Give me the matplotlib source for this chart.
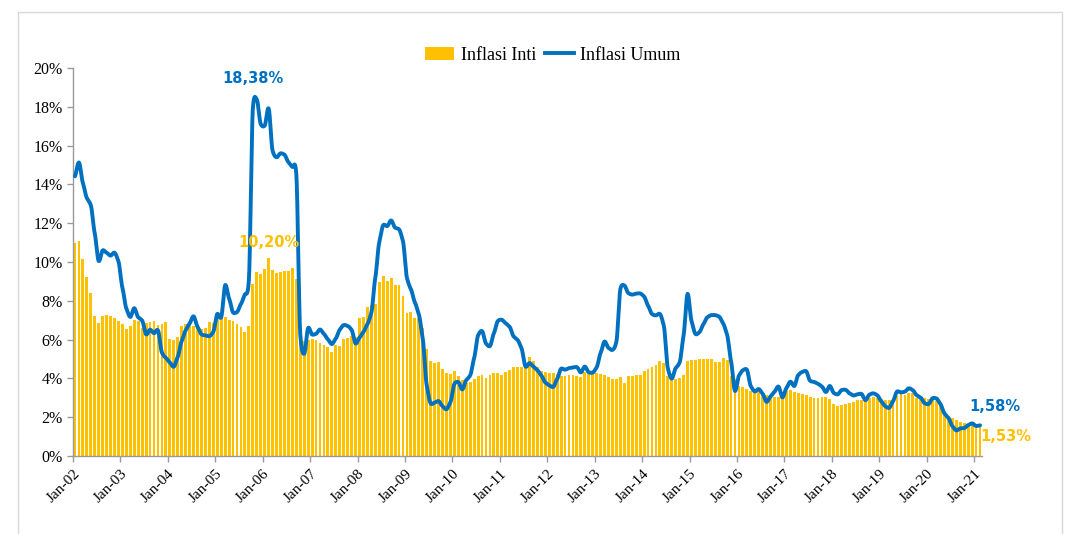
import matplotlib
matplotlib.use("Agg")
import matplotlib.pyplot as plt
from matplotlib.patches import Rectangle, Patch
from matplotlib.lines import Line2D
import numpy as np

# ---- data (monthly, Jan-2002 .. Feb-2021) ----
umum = [
    14.42, 15.13, 14.08, 13.30, 12.93, 11.48, 10.05, 10.60, 10.48, 10.33, 10.48, 10.03,  # 2002
    8.68, 7.60, 7.17, 7.62, 7.15, 6.98, 6.27, 6.51, 6.33, 6.48, 5.33, 5.06,              # 2003
    4.82, 4.60, 5.11, 5.92, 6.47, 6.83, 7.20, 6.67, 6.27, 6.22, 6.18, 6.40,              # 2004
    7.32, 7.15, 8.81, 8.12, 7.40, 7.42, 7.84, 8.33, 9.06, 17.89, 18.38, 17.11,           # 2005
    17.03, 17.92, 15.74, 15.40, 15.60, 15.53, 15.15, 14.90, 14.55, 6.29, 5.27, 6.60,     # 2006
    6.26, 6.30, 6.52, 6.29, 6.01, 5.77, 6.06, 6.51, 6.75, 6.70, 6.50, 5.80,              # 2007
    6.10, 6.40, 6.80, 7.40, 9.20, 11.03, 11.90, 11.85, 12.14, 11.77, 11.68, 11.06,       # 2008
    9.17, 8.60, 7.92, 7.31, 6.04, 3.65, 2.71, 2.75, 2.83, 2.57, 2.41, 2.78,              # 2009
    3.72, 3.81, 3.43, 3.91, 4.16, 5.05, 6.22, 6.44, 5.80, 5.67, 6.33, 6.96,              # 2010
    7.02, 6.84, 6.65, 6.16, 5.98, 5.54, 4.61, 4.79, 4.61, 4.42, 4.15, 3.79,              # 2011
    3.65, 3.56, 3.97, 4.50, 4.45, 4.53, 4.56, 4.58, 4.31, 4.61, 4.32, 4.30,              # 2012
    4.57, 5.31, 5.90, 5.57, 5.47, 5.90, 8.61, 8.79, 8.40, 8.32, 8.37, 8.38,              # 2013
    8.22, 7.75, 7.32, 7.25, 7.32, 6.70, 4.53, 3.99, 4.53, 4.83, 6.23, 8.36,              # 2014
    6.96, 6.29, 6.38, 6.79, 7.15, 7.26, 7.26, 7.18, 6.83, 6.25, 4.89, 3.35,              # 2015
    4.14, 4.42, 4.45, 3.60, 3.33, 3.45, 3.21, 2.79, 3.07, 3.31, 3.58, 3.02,              # 2016
    3.49, 3.83, 3.61, 4.17, 4.33, 4.37, 3.88, 3.82, 3.72, 3.58, 3.30, 3.61,              # 2017
    3.25, 3.18, 3.40, 3.41, 3.23, 3.12, 3.18, 3.20, 2.88, 3.16, 3.23, 3.13,              # 2018
    2.82, 2.57, 2.48, 2.83, 3.32, 3.28, 3.32, 3.49, 3.39, 3.13, 3.00, 2.72,              # 2019
    2.68, 2.98, 2.96, 2.67, 2.19, 1.96, 1.54, 1.32, 1.42, 1.44, 1.59, 1.68,              # 2020
    1.55, 1.58,                                                                          # 2021
]

inti = [
    11.00, 11.08, 10.17, 9.22, 8.41, 7.20, 6.84, 7.20, 7.29, 7.20, 7.12, 6.95,           # 2002
    6.81, 6.57, 6.69, 7.03, 6.95, 6.60, 6.86, 6.91, 6.98, 6.74, 6.78, 6.91,              # 2003
    6.03, 6.00, 6.14, 6.72, 6.81, 6.90, 6.70, 6.70, 6.55, 6.60, 6.90, 6.86,              # 2004
    7.10, 7.10, 7.15, 7.00, 6.98, 6.80, 6.65, 6.38, 6.70, 8.88, 9.46, 9.40,              # 2005
    9.65, 10.20, 9.60, 9.44, 9.50, 9.54, 9.55, 9.67, 9.12, 6.30, 5.95, 6.00,             # 2006
    6.01, 5.98, 5.85, 5.73, 5.62, 5.38, 5.72, 5.65, 6.01, 6.08, 6.20, 6.15,              # 2007
    7.10, 7.18, 7.70, 7.80, 7.85, 8.98, 9.26, 9.04, 9.15, 8.83, 8.79, 8.26,              # 2008
    7.39, 7.43, 7.13, 7.10, 6.62, 5.51, 4.88, 4.81, 4.83, 4.47, 4.29, 4.24,              # 2009
    4.40, 4.10, 3.90, 3.76, 3.82, 3.96, 4.13, 4.18, 4.00, 4.18, 4.30, 4.26,              # 2010
    4.18, 4.32, 4.43, 4.57, 4.58, 4.60, 4.60, 5.12, 4.91, 4.60, 4.40, 4.33,              # 2011
    4.26, 4.26, 4.22, 4.12, 4.13, 4.15, 4.20, 4.10, 4.09, 4.35, 4.28, 4.28,              # 2012
    4.27, 4.23, 4.20, 4.07, 3.97, 3.97, 4.05, 3.74, 4.12, 4.12, 4.18, 4.20,              # 2013
    4.40, 4.48, 4.57, 4.69, 4.88, 4.78, 4.10, 3.95, 3.99, 4.00, 4.20, 4.92,              # 2014
    4.97, 4.95, 5.00, 5.00, 5.00, 5.00, 4.82, 4.86, 5.03, 4.97, 4.10, 3.95,              # 2015
    3.60, 3.54, 3.44, 3.37, 3.32, 3.49, 3.26, 3.14, 3.09, 3.06, 3.06, 3.23,              # 2016
    3.35, 3.40, 3.30, 3.25, 3.18, 3.12, 3.03, 2.98, 2.97, 3.04, 3.02, 2.92,              # 2017
    2.66, 2.56, 2.65, 2.69, 2.72, 2.76, 2.87, 2.90, 2.94, 3.00, 3.04, 3.00,              # 2018
    2.95, 2.90, 2.88, 2.97, 3.08, 3.23, 3.15, 3.27, 3.23, 3.00, 2.97, 2.97,              # 2019
    2.95, 2.90, 2.85, 2.68, 2.30, 2.07, 1.98, 1.85, 1.75, 1.68, 1.63, 1.60,              # 2020
    1.56, 1.53,                                                                          # 2021
]

tick_labels = ["Jan-02", "Jan-03", "Jan-04", "Jan-05", "Jan-06", "Jan-07", "Jan-08",
               "Jan-09", "Jan-10", "Jan-11", "Jan-12", "Jan-13", "Jan-14", "Jan-15",
               "Jan-16", "Jan-17", "Jan-18", "Jan-19", "Jan-20", "Jan-21"]
series_names = ["Inflasi Inti", "Inflasi Umum"]

GOLD = "#FFC000"
BLUE = "#0070C0"
SERIF = "Liberation Serif"


def smooth(xs, ys, k=0.3, n=8):
    """Cardinal-spline curve through the data points (like a smoothed line)."""
    xs = np.asarray(xs, float)
    ys = np.asarray(ys, float)
    m = np.zeros_like(ys)
    m[1:-1] = k * (ys[2:] - ys[:-2])
    m[0] = k * 2 * (ys[1] - ys[0])
    m[-1] = k * 2 * (ys[-1] - ys[-2])
    t = np.linspace(0, 1, n, endpoint=False)
    h00 = 2 * t ** 3 - 3 * t ** 2 + 1
    h10 = t ** 3 - 2 * t ** 2 + t
    h01 = -2 * t ** 3 + 3 * t ** 2
    h11 = t ** 3 - t ** 2
    ox, oy = [], []
    for i in range(len(ys) - 1):
        ox.append(xs[i] + t * (xs[i + 1] - xs[i]))
        oy.append(h00 * ys[i] + h10 * m[i] + h01 * ys[i + 1] + h11 * m[i + 1])
    ox.append([xs[-1]])
    oy.append([ys[-1]])
    return np.concatenate(ox), np.concatenate(oy)


fig = plt.figure(figsize=(10.67, 5.34), dpi=100)
ax = fig.add_axes([73 / 1067, 1 - 456 / 534, (982 - 73) / 1067, (456 - 68) / 534])

x = np.arange(len(inti))
ax.bar(x, inti, width=0.72, color=GOLD, linewidth=0, zorder=2)
sx, sy = smooth(x, umum)
ax.plot(sx, sy, color=BLUE, linewidth=2.8, solid_joinstyle="round",
        solid_capstyle="round", zorder=3)

ax.set_xlim(-0.5, len(inti) - 0.5)
ax.set_ylim(0, 20)
ax.set_yticks(np.arange(0, 21, 2))
ax.set_yticklabels([f"{v}%" for v in range(0, 21, 2)], fontfamily=SERIF, fontsize=11.5)

ticks = [12 * k - 0.5 for k in range(len(tick_labels))]
ax.set_xticks(ticks)
ax.set_xticklabels(tick_labels, rotation=45, ha="right", rotation_mode="anchor",
                   fontfamily=SERIF, fontsize=11)

for s in ["top", "right"]:
    ax.spines[s].set_visible(False)
for s in ["left", "bottom"]:
    ax.spines[s].set_color("#9A9A9A")
    ax.spines[s].set_linewidth(1.0)
ax.tick_params(axis="both", color="#9A9A9A", length=4, width=1.0, direction="out")
ax.tick_params(axis="x", pad=4)

# value labels
ax.text(45.0, 19.45, "18,38%", color=BLUE, fontweight="bold", fontsize=10.5,
        ha="center", va="center")
ax.text(49.1, 10.98, "10,20%", color=GOLD, fontweight="bold", fontsize=10.5,
        ha="center", va="center")
ax.text(232.7, 2.53, "1,58%", color=BLUE, fontweight="bold", fontsize=10.5,
        ha="center", va="center", clip_on=False)
ax.text(235.6, 1.03, "1,53%", color=GOLD, fontweight="bold", fontsize=10.5,
        ha="center", va="center", clip_on=False)

# legend
handles = [Patch(facecolor=GOLD, edgecolor="none"),
           Line2D([0], [0], color=BLUE, linewidth=2.8)]
fig.legend(handles, series_names, loc="center", ncol=2,
           bbox_to_anchor=(553 / 1067, 1 - 55 / 534), frameon=False,
           prop={"family": SERIF, "size": 13}, handlelength=1.6,
           handletextpad=0.35, columnspacing=0.5)

# outer chart border
fig.patches.append(Rectangle((18 / 1067, -0.01), (1062 - 18) / 1067, 1 - 12 / 534 + 0.01,
                             transform=fig.transFigure, fill=False,
                             edgecolor="#D9D9D9", linewidth=1.0))

fig.savefig("out.png", dpi=100)
